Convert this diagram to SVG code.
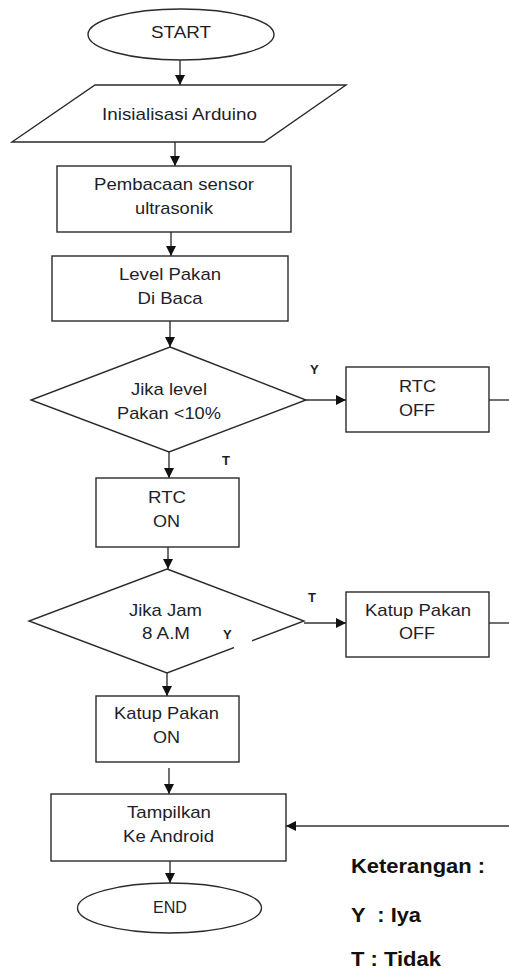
<svg xmlns="http://www.w3.org/2000/svg" width="509" height="970" viewBox="0 0 509 970">
  <style>
    .shape { fill: #ffffff; stroke: #2a2a2a; stroke-width: 1.4; }
    .conn { fill: none; stroke: #333333; stroke-width: 1.4; }
    .t { font-family: "Liberation Sans", Arial, sans-serif; font-size: 17px; fill: #1e1e2a; text-anchor: middle; }
    .lbl { font-family: "Liberation Sans", Arial, sans-serif; font-size: 13px; font-weight: bold; fill: #1e1e1e; }
    .legend { font-family: "Liberation Sans", Arial, sans-serif; font-size: 20px; font-weight: bold; fill: #111111; }
  </style>
  <defs>
    <marker id="arrow" markerWidth="12" markerHeight="12" refX="10" refY="5.5" orient="auto" markerUnits="userSpaceOnUse">
      <path d="M0,0.5 L10,5.5 L0,10.5 Z" fill="#111111"/>
    </marker>
  </defs>
  <rect width="509" height="970" fill="#ffffff"/>

  <!-- connectors -->
  <g id="connectors">
    <line class="conn" x1="180" y1="60" x2="180" y2="85" marker-end="url(#arrow)"/>
    <line class="conn" x1="175" y1="142" x2="175" y2="166" marker-end="url(#arrow)"/>
    <line class="conn" x1="171" y1="232" x2="171" y2="256" marker-end="url(#arrow)"/>
    <line class="conn" x1="170" y1="321" x2="170" y2="347" marker-end="url(#arrow)"/>
    <line class="conn" x1="306" y1="400" x2="346" y2="400" marker-end="url(#arrow)"/>
    <line class="conn" x1="489" y1="400" x2="509" y2="400"/>
    <line class="conn" x1="169" y1="452" x2="169" y2="478" marker-end="url(#arrow)"/>
    <line class="conn" x1="168" y1="547" x2="168" y2="569" marker-end="url(#arrow)"/>
    <line class="conn" x1="304" y1="623" x2="346" y2="623" marker-end="url(#arrow)"/>
    <line class="conn" x1="489" y1="623" x2="509" y2="623"/>
    <line class="conn" x1="167" y1="673" x2="167" y2="696" marker-end="url(#arrow)"/>
    <line class="conn" x1="169" y1="768" x2="169" y2="794" marker-end="url(#arrow)"/>
    <line class="conn" x1="509" y1="826" x2="286" y2="826" marker-end="url(#arrow)"/>
    <line class="conn" x1="170" y1="858" x2="170" y2="883" marker-end="url(#arrow)"/>
  </g>

  <g id="start">
    <ellipse class="shape" cx="181" cy="34.5" rx="93" ry="25.5"/>
    <text class="t" x="181" y="38" textLength="60" lengthAdjust="spacingAndGlyphs">START</text>
  </g>

  <g id="init">
    <polygon class="shape" points="95,85 346,85 264,142 12,142"/>
    <text class="t" x="179.5" y="120" textLength="155" lengthAdjust="spacingAndGlyphs">Inisialisasi Arduino</text>
  </g>

  <g id="read-sensor">
    <rect class="shape" x="57" y="166" width="234" height="66"/>
    <text class="t" x="174" y="190" textLength="160" lengthAdjust="spacingAndGlyphs">Pembacaan sensor</text>
    <text class="t" x="174" y="214" textLength="78" lengthAdjust="spacingAndGlyphs">ultrasonik</text>
  </g>

  <g id="read-level">
    <rect class="shape" x="52" y="256" width="236" height="65"/>
    <text class="t" x="170" y="280" textLength="102" lengthAdjust="spacingAndGlyphs">Level Pakan</text>
    <text class="t" x="170" y="304" textLength="65" lengthAdjust="spacingAndGlyphs">Di Baca</text>
  </g>

  <g id="check-level">
    <polygon class="shape" points="170,347 306,400 169,452 31,400"/>
    <text class="t" x="169" y="395" textLength="76" lengthAdjust="spacingAndGlyphs">Jika level</text>
    <text class="t" x="169" y="419" textLength="104" lengthAdjust="spacingAndGlyphs">Pakan &lt;10%</text>
    <text class="lbl" x="310" y="374">Y</text>
    <text class="lbl" x="222" y="465">T</text>
  </g>

  <g id="rtc-off">
    <rect class="shape" x="346" y="367" width="143" height="65"/>
    <text class="t" x="417.5" y="392" textLength="37" lengthAdjust="spacingAndGlyphs">RTC</text>
    <text class="t" x="417" y="416" textLength="36" lengthAdjust="spacingAndGlyphs">OFF</text>
  </g>

  <g id="rtc-on">
    <rect class="shape" x="96" y="478" width="143" height="69"/>
    <text class="t" x="167" y="503" textLength="38" lengthAdjust="spacingAndGlyphs">RTC</text>
    <text class="t" x="166.5" y="527" textLength="27" lengthAdjust="spacingAndGlyphs">ON</text>
  </g>

  <g id="check-time">
    <path class="shape" d="M167,569 L304,621 L167,673 L29,621 Z"/>
    <!-- the Y label sits on a small white patch over the lower-right edge -->
    <rect x="234" y="639" width="18" height="12" fill="#ffffff"/>
    <text class="t" x="165.5" y="616" textLength="73" lengthAdjust="spacingAndGlyphs">Jika Jam</text>
    <text class="t" x="166" y="639" textLength="48" lengthAdjust="spacingAndGlyphs">8 A.M</text>
    <text class="lbl" x="223" y="639">Y</text>
    <text class="lbl" x="308" y="602">T</text>
  </g>

  <g id="valve-off">
    <rect class="shape" x="346" y="592" width="143" height="65"/>
    <text class="t" x="418" y="616" textLength="106" lengthAdjust="spacingAndGlyphs">Katup Pakan</text>
    <text class="t" x="417" y="639" textLength="36" lengthAdjust="spacingAndGlyphs">OFF</text>
  </g>

  <g id="valve-on">
    <rect class="shape" x="96" y="696" width="143" height="66"/>
    <text class="t" x="166.5" y="719" textLength="105" lengthAdjust="spacingAndGlyphs">Katup Pakan</text>
    <text class="t" x="166.5" y="743" textLength="27" lengthAdjust="spacingAndGlyphs">ON</text>
  </g>

  <g id="display">
    <rect class="shape" x="51" y="794" width="235" height="67"/>
    <text class="t" x="169" y="818" textLength="84" lengthAdjust="spacingAndGlyphs">Tampilkan</text>
    <text class="t" x="168.5" y="842" textLength="91" lengthAdjust="spacingAndGlyphs">Ke Android</text>
  </g>

  <g id="end">
    <ellipse class="shape" cx="169.5" cy="908" rx="92" ry="25"/>
    <text class="t" x="170" y="913" textLength="34" lengthAdjust="spacingAndGlyphs">END</text>
  </g>

  <g id="legend">
    <text class="legend" x="351" y="873" textLength="134" lengthAdjust="spacingAndGlyphs">Keterangan :</text>
    <text class="legend" x="351" y="922" textLength="70" lengthAdjust="spacingAndGlyphs" xml:space="preserve">Y  : Iya</text>
    <text class="legend" x="351" y="966" textLength="90" lengthAdjust="spacingAndGlyphs">T : Tidak</text>
  </g>
</svg>
